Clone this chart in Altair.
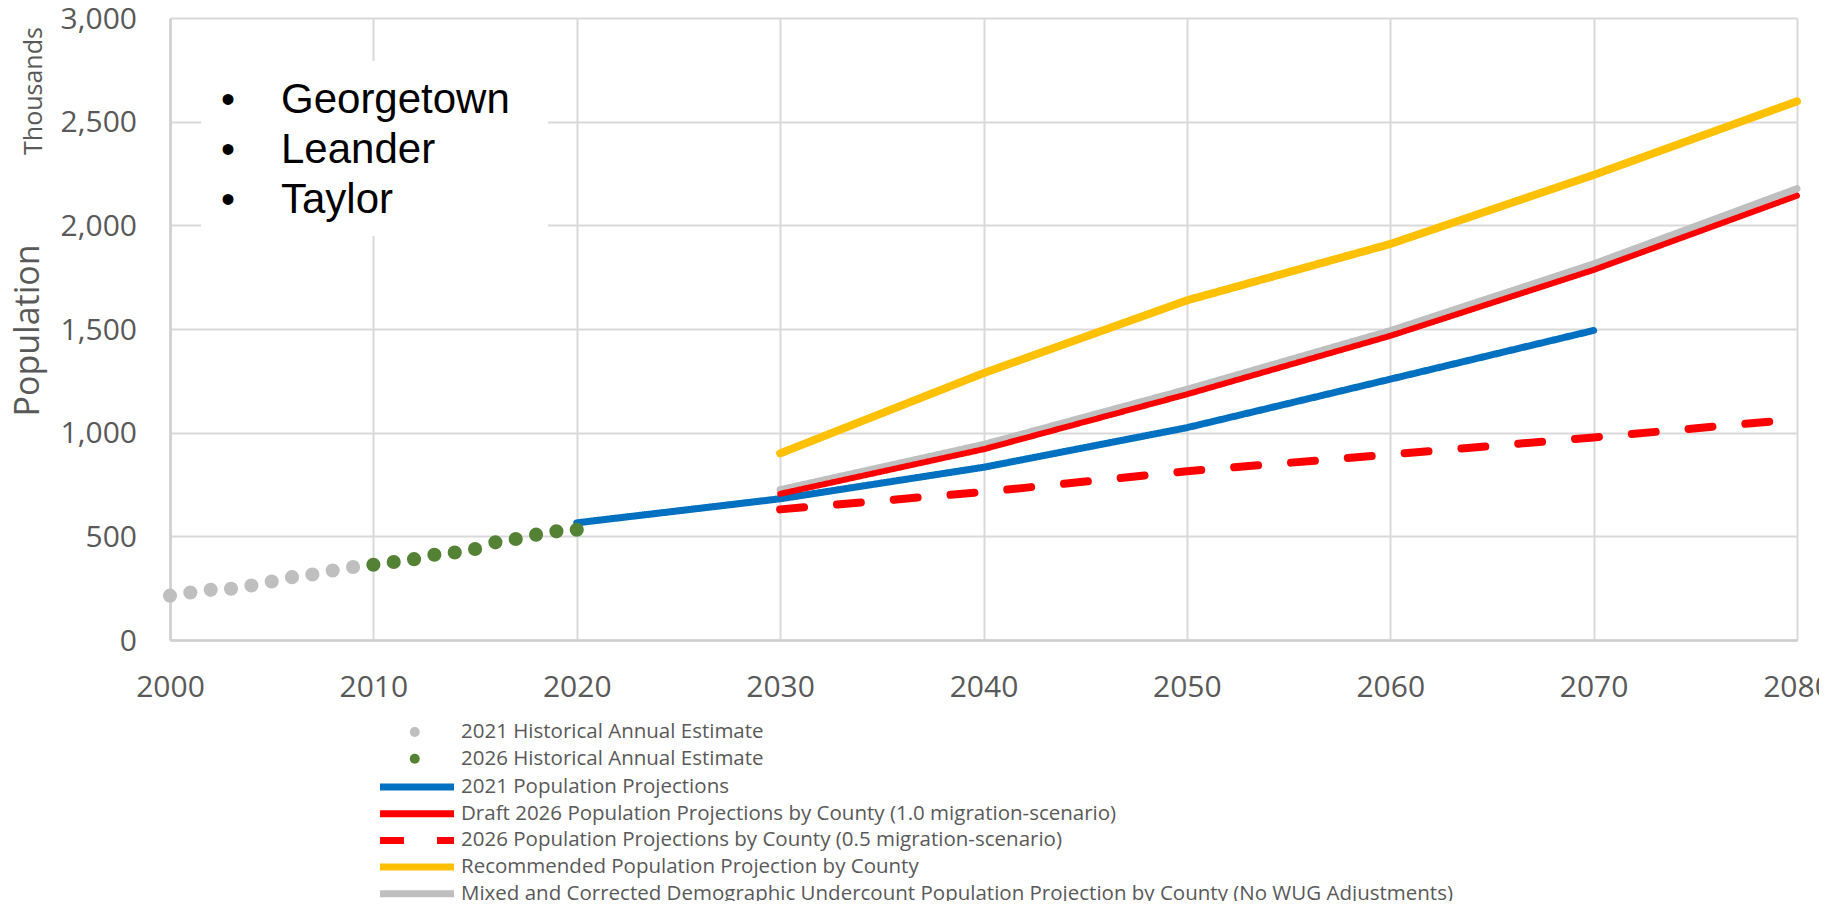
import altair as alt
import pandas as pd

# ---------------- data (thousands of people) ----------------
hist_2021_years = list(range(2000, 2010))
hist_2021_values = [214, 229, 242, 247, 263, 282, 303, 316, 335, 352]
hist_2026_years = list(range(2010, 2021))
hist_2026_values = [363, 376, 390, 411, 422, 439, 471, 487, 508, 524, 532]

proj_2021_years = [2020, 2030, 2040, 2050, 2060, 2070]
proj_2021_values = [565, 681, 833, 1024, 1258, 1493]
decades = [2030, 2040, 2050, 2060, 2070, 2080]
draft_2026_values = [705, 920, 1185, 1467, 1785, 2143]
half_mig_values = [630, 714, 814, 895, 977, 1065]
recommended_values = [900, 1287, 1638, 1910, 2243, 2598]
mixed_values = [725, 943, 1209, 1492, 1814, 2177]

hist_names = ["2021 Historical Annual Estimate", "2026 Historical Annual Estimate"]
hist_colors = ["#BFBFBF", "#548235"]

series_names = [
    "2021 Population Projections",
    "Draft 2026 Population Projections by County (1.0 migration-scenario)",
    "2026 Population Projections by County (0.5 migration-scenario)",
    "Recommended Population Projection by County",
    "Mixed and Corrected Demographic Undercount Population Projection by County (No WUG Adjustments)",
]
series_colors = ["#0070C0", "#FF0000", "#FF0000", "#FFC000", "#BFBFBF"]
series_dash = [[1, 0], [1, 0], [24, 33], [1, 0], [1, 0]]
series_widths = [7, 6, 8, 8, 7]

x_ticks = [2000, 2010, 2020, 2030, 2040, 2050, 2060, 2070, 2080]
y_ticks = [0, 500, 1000, 1500, 2000, 2500, 3000]

places = ["Georgetown", "Leander", "Taylor"]
unit_label = "Thousands"
y_title = "Population"

# ---------------- tables ----------------
hist_df = pd.DataFrame({
    "year": hist_2021_years + hist_2026_years,
    "value": hist_2021_values + hist_2026_values,
    "hist": [hist_names[0]] * len(hist_2021_years) + [hist_names[1]] * len(hist_2026_years),
})

series_data = [
    (proj_2021_years, proj_2021_values),
    (decades, draft_2026_values),
    (decades, half_mig_values),
    (decades, recommended_values),
    (decades, mixed_values),
]

GRAY_TXT = "#595959"
FONT = "Open Sans"

x_enc = alt.X(
    "year:Q",
    scale=alt.Scale(domain=[2000, 2080], nice=False, zero=False),
    axis=alt.Axis(values=x_ticks, format="d", title=None, labelPadding=32,
                  labelFlush=False, labelOverlap=False, ticks=False),
)
y_enc = alt.Y(
    "value:Q",
    scale=alt.Scale(domain=[0, 3000], nice=False),
    axis=alt.Axis(values=y_ticks, format=",d", title=y_title, labelPadding=33.5,
                  labelOverlap=False, ticks=False, labelOffset=1, labelFlush=False,
                  titleX=-132, titleY=312, titleAngle=270, titleAlign="center",
                  titleBaseline="alphabetic", titleFontSize=34, titleFont=FONT,
                  titleColor=GRAY_TXT, titleFontWeight="normal"),
)

LEG_FS = 20.5
line_legend = alt.Legend(
    title=None, orient="none", legendX=206.5, legendY=759, padding=0,
    symbolType="stroke", symbolSize=5476, symbolStrokeWidth=7,
    labelFont=FONT, labelFontSize=LEG_FS, labelColor=GRAY_TXT, labelLimit=1500,
    labelOffset=3.5, clipHeight=20, rowPadding=5.7,
)
color_enc = alt.Color("series:N", scale=alt.Scale(domain=series_names, range=series_colors),
                      legend=line_legend)
dash_enc = alt.StrokeDash("series:N", scale=alt.Scale(domain=series_names, range=series_dash),
                          legend=line_legend)

point_legend = alt.Legend(
    title=None, orient="none", legendX=234.5, legendY=704, padding=0,
    symbolType="circle", symbolSize=100, symbolStrokeWidth=0,
    labelFont=FONT, labelFontSize=LEG_FS, labelColor=GRAY_TXT, labelLimit=1500,
    labelOffset=36, clipHeight=20, rowPadding=5.7,
)

# draw order: mixed (under), blue, dashed, red, yellow
draw_order = [4, 0, 2, 1, 3]
line_layers = []
for i in draw_order:
    yrs, vals = series_data[i]
    df = pd.DataFrame({"year": yrs, "value": vals, "series": [series_names[i]] * len(yrs)})
    line_layers.append(
        alt.Chart(df).mark_line(strokeWidth=series_widths[i], strokeCap="round", strokeJoin="round")
        .encode(x=x_enc, y=y_enc, color=color_enc, strokeDash=dash_enc)
    )

points = alt.Chart(hist_df).mark_circle(size=200, opacity=1).encode(
    x=x_enc, y=y_enc,
    fill=alt.Fill("hist:N", scale=alt.Scale(domain=hist_names, range=hist_colors), legend=point_legend),
)

one = pd.DataFrame({"t": ["\n".join(places)], "b": ["\n".join(["•"] * len(places))], "u": [unit_label]})

box = alt.Chart(one).mark_rect(fill="white", stroke=None).encode(
    x=alt.value(31), x2=alt.value(378), y=alt.value(43), y2=alt.value(218)
)
names_txt = alt.Chart(one).mark_text(
    font="Liberation Sans", fontSize=42, color="black", align="left", baseline="alphabetic",
    lineBreak="\n", lineHeight=50,
).encode(text="t:N", x=alt.value(111), y=alt.value(95))
bullets_txt = alt.Chart(one).mark_text(
    font="Liberation Sans", fontSize=40, color="black", align="center", baseline="alphabetic",
    lineBreak="\n", lineHeight=50,
).encode(text="b:N", x=alt.value(58), y=alt.value(95))
unit_txt = alt.Chart(one).mark_text(
    font=FONT, fontSize=25, color=GRAY_TXT, align="center", baseline="alphabetic", angle=270,
).encode(text="u:N", x=alt.value(-128), y=alt.value(73))

chart = alt.layer(
    *line_layers, points, box, bullets_txt, names_txt, unit_txt
).properties(
    width=1627, height=622,
    autosize=alt.AutoSizeParams(type="none"),
    padding={"left": 162, "top": 10, "right": 22, "bottom": 261},
).configure_view(stroke=None).configure_axis(
    gridColor="#D9D9D9", gridWidth=2, domainColor="#CFCFCF", domainWidth=2.5,
    labelFont=FONT, labelFontSize=30, labelColor=GRAY_TXT,
)

chart.save("out.html", embed_options={"renderer": "svg", "actions": False})
